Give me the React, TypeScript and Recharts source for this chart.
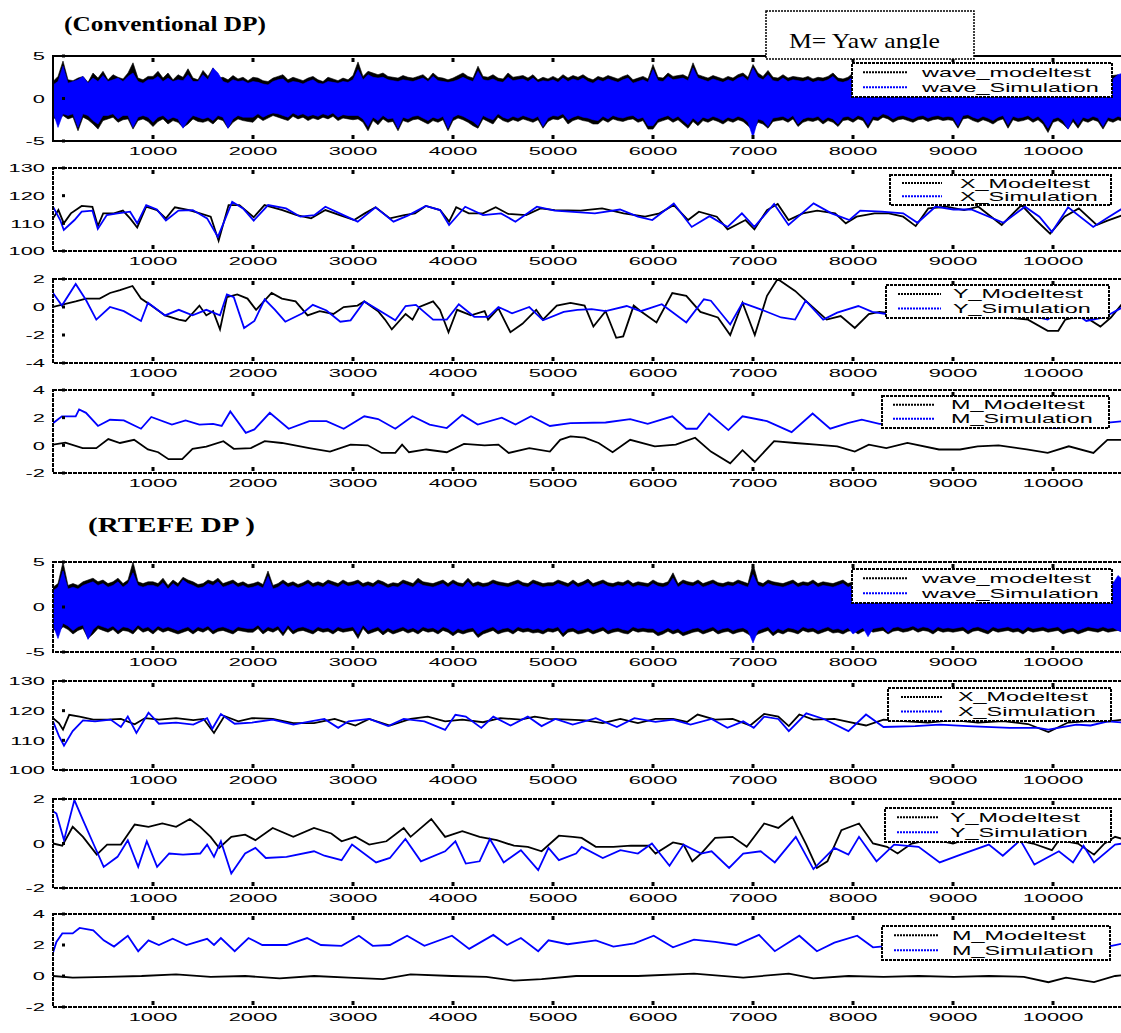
import React from "react";
import { ComposedChart, Line, Area, XAxis, YAxis } from "recharts";

const BLACK = "#000000";
const BLUE = "#0000ff";
const SANS = "'Liberation Sans', Arial, Helvetica, sans-serif";
const SERIF = "'Liberation Serif', 'Times New Roman', serif";

type Pt = [number, number];

// x axis (sample index)
const xTicks = [1000, 2000, 3000, 4000, 5000, 6000, 7000, 8000, 9000, 10000];
const X_MAX = 10770;
const WAVE_STEP = 50;

// ---- Conventional DP ----
// wave band, upper and lower envelope in tenths, one value every 50 samples
const convWaveModelHi = [
  20, 26, 44, 22, 21, 24, 26, 19, 30, 24, 32, 22, 28, 25, 23, 30, 42, 24, 22, 26,
  26, 32, 24, 30, 22, 28, 25, 35, 24, 22, 33, 26, 36, 24, 25, 22, 27, 23, 25, 21,
  25, 24, 21, 20, 24, 26, 28, 22, 25, 23, 21, 24, 26, 22, 20, 25, 23, 21, 24, 22,
  27, 43, 26, 32, 30, 28, 30, 26, 25, 24, 27, 25, 24, 26, 28, 23, 30, 25, 24, 22,
  24, 27, 30, 26, 24, 38, 26, 25, 28, 24, 23, 30, 25, 26, 27, 24, 28, 22, 25, 23,
  26, 23, 28, 24, 27, 25, 28, 24, 22, 26, 24, 27, 25, 23, 26, 28, 22, 24, 26, 23,
  40, 25, 24, 30, 26, 27, 28, 25, 42, 28, 26, 24, 27, 25, 23, 26, 24, 28, 30, 25,
  40, 30, 26, 33, 25, 24, 28, 24, 26, 25, 24, 26, 23, 25, 24, 26, 30, 24, 23, 25,
  30, 25, 22, 24, 22, 23, 24, 25, 22, 24, 23, 26, 22, 24, 21, 23, 25, 22, 24, 23,
  23, 24, 22, 25, 24, 22, 23, 24, 22, 24, 23, 25, 22, 24, 23, 22, 24, 23, 25, 24,
  25, 24, 22, 24, 25, 24, 30, 28, 24, 26, 23, 25, 27, 28, 24,
];
const convWaveModelLo = [
  -22, -26, -20, -24, -22, -38, -22, -25, -30, -36, -26, -24, -22, -28, -25, -24, -36, -26, -24, -27,
  -33, -27, -24, -30, -26, -28, -34, -30, -24, -27, -28, -26, -30, -24, -26, -35, -28, -24, -26, -27,
  -28, -22, -26, -23, -20, -22, -24, -26, -21, -24, -22, -26, -23, -25, -22, -24, -21, -26, -23, -24,
  -25, -24, -28, -38, -26, -31, -24, -28, -27, -38, -26, -28, -25, -24, -27, -30, -26, -28, -25, -38,
  -26, -23, -25, -28, -32, -35, -24, -27, -30, -22, -26, -28, -25, -27, -24, -26, -28, -25, -35, -27,
  -24, -25, -22, -30, -26, -24, -26, -27, -30, -30, -25, -28, -24, -26, -27, -25, -24, -28, -26, -36,
  -36, -28, -26, -24, -28, -25, -30, -35, -27, -32, -26, -28, -25, -27, -30, -26, -28, -25, -27, -32,
  -38, -28, -30, -35, -27, -26, -25, -28, -24, -33, -28, -26, -27, -25, -30, -26, -28, -33, -26, -25,
  -28, -24, -26, -35, -25, -26, -22, -24, -28, -25, -24, -26, -28, -25, -24, -27, -25, -24, -26, -25,
  -26, -35, -24, -23, -26, -28, -25, -27, -30, -26, -24, -35, -25, -27, -26, -24, -28, -25, -30, -40,
  -28, -26, -30, -36, -27, -35, -26, -28, -25, -27, -36, -26, -28, -25, -27,
];
const convWaveSimHi = [
  16, 20, 38, 18, 20, 22, 26, 18, 24, 20, 27, 20, 22, 24, 20, 26, 30, 20, 18, 22,
  22, 26, 20, 24, 20, 22, 21, 28, 20, 20, 28, 22, 36, 30, 20, 18, 22, 20, 21, 18,
  20, 19, 17, 16, 20, 22, 23, 18, 20, 19, 17, 20, 22, 18, 17, 20, 19, 18, 20, 19,
  22, 34, 22, 28, 25, 24, 25, 22, 21, 20, 22, 21, 20, 22, 24, 20, 26, 21, 20, 19,
  20, 22, 25, 22, 20, 32, 22, 21, 23, 20, 19, 25, 21, 22, 23, 20, 24, 19, 21, 20,
  22, 19, 24, 20, 23, 21, 24, 20, 18, 22, 20, 23, 21, 19, 22, 24, 18, 20, 22, 19,
  34, 21, 20, 26, 22, 23, 24, 21, 36, 24, 22, 20, 23, 21, 19, 22, 20, 24, 26, 21,
  36, 25, 22, 28, 21, 20, 24, 20, 22, 21, 20, 22, 19, 21, 20, 22, 26, 20, 19, 21,
  26, 21, 18, 20, 18, 19, 20, 21, 18, 20, 19, 22, 18, 20, 17, 19, 21, 18, 20, 19,
  19, 20, 18, 21, 20, 18, 19, 20, 18, 20, 19, 21, 18, 20, 19, 18, 20, 19, 21, 20,
  21, 20, 18, 20, 21, 20, 26, 24, 20, 22, 19, 21, 23, 28, 30,
];
const convWaveSimLo = [
  -16, -34, -18, -20, -18, -34, -18, -20, -26, -30, -20, -20, -18, -24, -20, -20, -34, -22, -20, -22,
  -28, -22, -20, -25, -22, -24, -35, -26, -20, -22, -24, -22, -26, -20, -22, -35, -24, -20, -22, -22,
  -22, -18, -22, -19, -17, -18, -20, -22, -17, -20, -18, -21, -19, -21, -18, -20, -17, -22, -19, -20,
  -20, -20, -24, -33, -22, -26, -20, -24, -23, -35, -22, -24, -21, -20, -23, -26, -22, -24, -21, -35,
  -22, -19, -21, -24, -27, -32, -20, -23, -25, -18, -22, -24, -21, -23, -20, -22, -24, -21, -33, -23,
  -20, -21, -18, -25, -22, -20, -22, -23, -25, -26, -21, -24, -20, -22, -23, -21, -20, -24, -22, -32,
  -32, -24, -22, -20, -24, -21, -26, -31, -23, -28, -22, -24, -21, -23, -26, -22, -24, -21, -23, -28,
  -46, -24, -26, -33, -23, -22, -21, -24, -20, -30, -24, -22, -23, -21, -26, -22, -24, -30, -22, -21,
  -24, -20, -22, -31, -21, -22, -18, -20, -24, -21, -20, -22, -24, -21, -20, -23, -21, -20, -22, -21,
  -22, -32, -20, -19, -22, -24, -21, -23, -26, -22, -20, -31, -21, -23, -22, -20, -24, -21, -26, -35,
  -24, -22, -26, -36, -23, -31, -22, -24, -21, -23, -33, -22, -24, -21, -23,
];

const convXModel: Pt[] = [
  [0, 111.8], [54, 114.8], [108, 110], [179, 113.6], [287, 116.3], [394, 116], [448, 109], [502, 113.6],
  [609, 113.6], [699, 114.6], [771, 111.8], [842, 108.5], [932, 116], [1039, 114.8], [1129, 111.8],
  [1219, 115.8], [1362, 114.8], [1470, 113.6], [1577, 112.4], [1656, 103.7], [1756, 116.6], [1864, 116.6],
  [2007, 112.2], [2115, 116.6], [2294, 114.8], [2437, 113], [2581, 111.8], [2724, 114.8], [2867, 113],
  [3011, 111.2], [3118, 113.6], [3226, 115.8], [3369, 111.8], [3513, 113], [3620, 113.6], [3728, 116.3],
  [3871, 114.8], [3961, 110.6], [4032, 115.8], [4158, 113.6], [4301, 113.6], [4427, 115.8], [4552, 113.4],
  [4731, 113], [4875, 115.4], [5018, 114.8], [5276, 114.6], [5491, 115.4], [5706, 113.6], [5921, 112.4],
  [6065, 113.6], [6208, 116.6], [6351, 111.2], [6459, 114.2], [6638, 112.4], [6746, 107.8], [6925, 111.2],
  [7014, 107.8], [7140, 114.8], [7247, 117], [7355, 111.2], [7498, 113.6], [7642, 114.6], [7821, 113.6],
  [7928, 110], [8036, 112.4], [8215, 113.6], [8358, 113.6], [8502, 112.4], [8627, 109], [8753, 115.4],
  [8932, 116], [9111, 114.8], [9254, 116], [9487, 109.4], [9685, 116.6], [9828, 111.2], [9971, 106.3],
  [10115, 112.4], [10258, 115.4], [10437, 109.4], [10545, 111], [10700, 113],
];
const convXSim: Pt[] = [
  [0, 116], [72, 111.2], [108, 107.6], [215, 111.2], [287, 114.2], [394, 114.6], [448, 108], [538, 113],
  [645, 113.6], [771, 114.2], [842, 110], [932, 116.6], [1039, 115], [1129, 111], [1254, 114.6],
  [1398, 114.8], [1541, 111.8], [1649, 105.1], [1792, 117.8], [1900, 115.4], [2007, 111], [2151, 116.6],
  [2330, 115.4], [2473, 112.4], [2616, 113], [2724, 116], [2867, 113.6], [3047, 110.6], [3226, 115.8],
  [3405, 110.6], [3548, 112.8], [3728, 116.3], [3871, 114.8], [3961, 109.4], [4122, 116], [4301, 113],
  [4480, 113.6], [4624, 110.6], [4839, 116], [5018, 114.6], [5419, 113.6], [5670, 115], [5849, 112.4],
  [5993, 111.2], [6208, 117.2], [6387, 108.7], [6566, 112.6], [6746, 108.7], [6889, 113.6], [7014, 108.7],
  [7211, 117], [7355, 109.4], [7606, 117.2], [7785, 113.6], [7964, 111.2], [8072, 114.6], [8287, 114.2],
  [8502, 113.6], [8645, 110.2], [8824, 116], [9004, 115], [9183, 115], [9505, 110.2], [9720, 116],
  [9864, 112.4], [9989, 106.9], [10151, 115.8], [10402, 108.7], [10545, 112], [10700, 115.5],
];

const convYModel: Pt[] = [
  [0, 0], [227, 0.4], [330, 0.6], [467, 0.6], [570, 1.0], [670, 1.2], [795, 1.5], [880, 0.6], [983, 0.1],
  [1120, -0.6], [1258, -0.9], [1326, -1.0], [1464, 0.1], [1533, -0.6], [1601, -0.3], [1670, -1.6],
  [1739, 0.7], [1842, 0.9], [1945, 0.6], [2031, -0.2], [2186, 1.0], [2289, 0.6], [2426, 0.4], [2546, -0.6],
  [2667, -0.3], [2804, -0.5], [2907, 0], [3045, 0.1], [3113, 0.4], [3251, -0.3], [3320, -0.9], [3388, -1.6],
  [3526, -0.5], [3595, -0.9], [3663, 0], [3801, 0.4], [3869, -0.2], [3955, -1.8], [4041, -0.2], [4179, -0.6],
  [4316, -0.3], [4351, -0.9], [4454, -0.1], [4574, -1.8], [4694, -1.2], [4832, -0.2], [4900, -0.9],
  [5038, 0.1], [5175, 0.3], [5316, 0.1], [5404, -1.4], [5526, -0.3], [5632, -2.2], [5702, -2.1],
  [5807, 0.1], [5877, -0.3], [6035, -1.1], [6193, 1.0], [6333, 0.8], [6474, -0.35], [6649, -0.75],
  [6772, -2.0], [6895, 0.3], [7018, -2.0], [7140, 0.8], [7246, 2.0], [7421, 1.15], [7526, 0.45],
  [7737, -0.9], [7877, -0.65], [8018, -1.5], [8158, -0.5], [8263, -0.35], [8333, -0.4], [8550, -0.5],
  [8750, -0.3], [9000, -0.6], [9250, -0.4], [9500, -0.7], [9750, -0.9], [9947, -1.7], [10053, -1.7],
  [10123, -0.9], [10300, -0.6], [10474, -1.4], [10579, -0.75], [10700, 0.3],
];
const convYSim: Pt[] = [
  [0, 1.0], [89, 0.1], [227, 1.65], [330, 0.5], [433, -0.9], [570, 0], [708, -0.3], [880, -1.0], [950, 0.3],
  [1120, -0.6], [1258, -0.2], [1395, -0.6], [1533, -0.2], [1670, -0.6], [1739, 0.9], [1808, 0.7],
  [1911, -1.5], [2014, -1.0], [2117, 0.55], [2220, -0.2], [2323, -1.05], [2495, -0.45], [2598, 0.15],
  [2735, -0.25], [2873, -1.05], [2976, -0.95], [3113, 0.4], [3251, -0.2], [3423, -0.95], [3526, 0.07],
  [3629, 0.15], [3801, -0.9], [3938, -0.9], [4058, 0.2], [4213, -0.7], [4351, -0.7], [4454, 0],
  [4591, -0.45], [4763, 0], [4900, -0.95], [5107, -0.35], [5244, -0.2], [5386, -0.15], [5526, -0.3],
  [5737, 0.07], [5877, -0.3], [6088, 0.2], [6333, -1.1], [6509, 0.55], [6579, 0.45], [6772, -1.25],
  [6895, 0.3], [7070, -0.15], [7281, -0.75], [7421, -0.9], [7526, 0.45], [7702, -0.9], [7842, -0.4],
  [8053, 0.07], [8193, -0.35], [8333, -0.5], [8600, -0.4], [8895, -0.75], [9150, -0.5], [9400, -0.6],
  [9650, -0.4], [9947, -0.9], [10123, 0.07], [10333, -1.0], [10509, -0.75], [10700, 0],
];

const convMModel: Pt[] = [
  [0, 0.05], [124, 0.2], [296, -0.2], [433, -0.2], [553, 0.45], [670, 0.17], [811, 0.4], [949, -0.3],
  [1052, -0.5], [1155, -1.0], [1292, -1.0], [1395, -0.25], [1533, -0.1], [1704, 0.3], [1808, -0.25],
  [1979, -0.2], [2117, 0.3], [2289, 0.17], [2563, -0.2], [2770, -0.45], [2976, 0.05], [3148, 0],
  [3285, -0.55], [3423, -0.55], [3491, 0.05], [3560, -0.5], [3732, -0.3], [3938, -0.5], [4110, 0.1],
  [4316, 0], [4454, 0.05], [4557, -0.55], [4763, -0.2], [4969, -0.45], [5072, 0.4], [5175, 0.65],
  [5316, 0.55], [5456, 0.17], [5596, -0.5], [5772, 0.4], [6018, -0.07], [6228, 0.05], [6421, 0.55],
  [6579, -0.45], [6772, -1.3], [6895, -0.35], [7018, -1.2], [7211, 0.3], [7421, 0.17], [7632, 0.05],
  [7842, -0.07], [8018, -0.45], [8158, 0.05], [8333, -0.2], [8544, 0.17], [8860, -0.3], [9070, -0.3],
  [9246, -0.07], [9456, 0], [9737, -0.3], [9947, -0.55], [10158, -0.07], [10404, -0.55], [10544, 0.4],
  [10700, 0.4],
];
const convMSim: Pt[] = [
  [0, 1.6], [89, 2.1], [227, 2.1], [261, 2.6], [330, 2.35], [450, 1.4], [570, 1.85], [708, 1.8], [880, 1.2],
  [983, 2.05], [1189, 1.5], [1326, 1.8], [1464, 1.5], [1601, 1.55], [1687, 1.4], [1773, 2.45], [1928, 0.9],
  [2014, 1.15], [2168, 2.35], [2357, 1.2], [2563, 1.75], [2735, 1.75], [2907, 1.2], [3113, 2.1],
  [3251, 1.9], [3423, 1.2], [3595, 2.1], [3766, 1.5], [3938, 1.25], [4093, 2.2], [4247, 1.5], [4488, 2.0],
  [4625, 1.5], [4780, 2.1], [4969, 1.4], [5175, 1.6], [5526, 1.65], [5772, 1.9], [5947, 1.55], [6193, 2.1],
  [6333, 1.2], [6439, 1.2], [6561, 2.3], [6754, 1.1], [6895, 2.1], [7140, 1.75], [7386, 0.95], [7596, 2.3],
  [7772, 1.2], [7947, 1.6], [8088, 1.85], [8263, 1.55], [8500, 1.6], [8750, 1.4], [9000, 1.7], [9250, 1.5],
  [9500, 1.6], [9750, 1.4], [10035, 1.25], [10300, 1.5], [10500, 1.6], [10700, 1.75],
];

// ---- RTEFE DP ----
const rtefeWaveModelHi = [
  22, 26, 50, 24, 26, 24, 28, 30, 32, 28, 30, 26, 28, 32, 26, 30, 50, 28, 26, 28,
  28, 26, 32, 24, 30, 26, 33, 30, 28, 25, 26, 30, 28, 32, 26, 28, 30, 26, 28, 25,
  26, 28, 25, 40, 24, 26, 30, 26, 28, 25, 27, 30, 26, 28, 26, 30, 28, 26, 30, 27,
  28, 30, 26, 28, 26, 30, 28, 25, 27, 26, 30, 28, 26, 32, 28, 27, 26, 28, 30, 26,
  30, 27, 26, 32, 26, 28, 26, 27, 30, 28, 27, 26, 28, 30, 27, 26, 30, 28, 26, 27,
  27, 30, 28, 26, 30, 26, 28, 31, 26, 28, 30, 27, 26, 28, 27, 30, 26, 28, 27, 26,
  30, 27, 26, 28, 38, 26, 30, 28, 27, 30, 26, 28, 30, 27, 26, 28, 27, 30, 28, 26,
  48, 28, 26, 30, 28, 27, 26, 28, 30, 26, 28, 27, 30, 26, 28, 27, 26, 28, 30, 26,
  28, 27, 26, 28, 26, 25, 28, 26, 25, 27, 26, 28, 25, 27, 26, 28, 26, 25, 27, 26,
  26, 25, 28, 26, 25, 28, 26, 25, 27, 28, 26, 25, 27, 26, 28, 25, 27, 26, 25, 27,
  25, 28, 26, 27, 25, 28, 26, 27, 28, 25, 27, 26, 28, 26, 27,
];
const rtefeWaveModelLo = [
  -24, -28, -22, -25, -30, -26, -24, -35, -30, -24, -26, -28, -25, -30, -26, -27, -30, -24, -28, -26,
  -30, -25, -28, -26, -28, -30, -28, -26, -30, -26, -28, -25, -30, -27, -26, -28, -30, -26, -27, -28,
  -28, -24, -30, -26, -28, -25, -32, -24, -30, -27, -26, -28, -30, -26, -28, -27, -30, -26, -28, -27,
  -26, -35, -24, -30, -28, -26, -31, -27, -30, -28, -26, -29, -27, -30, -26, -28, -27, -30, -26, -28,
  -32, -28, -30, -28, -27, -34, -30, -28, -26, -30, -28, -27, -30, -26, -28, -27, -29, -28, -30, -27,
  -28, -26, -33, -28, -27, -30, -29, -27, -30, -28, -26, -30, -28, -27, -29, -30, -26, -28, -27, -28,
  -28, -32, -30, -27, -30, -28, -32, -30, -28, -27, -30, -28, -26, -30, -28, -27, -30, -28, -27, -30,
  -34, -30, -28, -26, -32, -28, -30, -27, -28, -30, -26, -28, -27, -30, -28, -26, -29, -28, -30, -27,
  -26, -30, -27, -25, -28, -27, -26, -30, -27, -26, -28, -27, -25, -28, -26, -27, -30, -26, -28, -27,
  -28, -27, -26, -30, -27, -26, -28, -30, -26, -28, -27, -26, -28, -27, -30, -26, -28, -27, -26, -28,
  -27, -26, -30, -28, -27, -30, -28, -26, -27, -28, -26, -28, -27, -26, -28,
];
const rtefeWaveSimHi = [
  18, 22, 40, 20, 22, 20, 24, 26, 28, 24, 26, 22, 24, 28, 22, 26, 38, 24, 22, 24,
  24, 22, 27, 20, 26, 22, 30, 26, 24, 21, 22, 26, 24, 28, 22, 24, 26, 22, 24, 21,
  22, 24, 21, 34, 20, 22, 26, 22, 24, 21, 23, 26, 22, 24, 22, 26, 24, 22, 26, 23,
  24, 26, 22, 24, 22, 26, 24, 21, 23, 22, 26, 24, 22, 27, 24, 23, 22, 24, 26, 22,
  26, 23, 22, 28, 22, 24, 22, 23, 26, 24, 23, 22, 24, 26, 23, 22, 26, 24, 22, 23,
  23, 26, 24, 22, 26, 22, 24, 27, 22, 24, 26, 23, 22, 24, 23, 26, 22, 24, 23, 22,
  26, 23, 22, 24, 32, 22, 26, 24, 23, 26, 22, 24, 26, 23, 22, 24, 23, 26, 24, 22,
  36, 24, 22, 26, 24, 23, 22, 24, 26, 22, 24, 23, 26, 22, 24, 23, 22, 24, 26, 22,
  24, 23, 24, 24, 22, 21, 24, 22, 21, 23, 22, 24, 21, 23, 22, 24, 22, 21, 23, 22,
  22, 21, 24, 22, 21, 24, 22, 21, 23, 24, 22, 21, 23, 22, 24, 21, 23, 22, 21, 23,
  21, 24, 22, 23, 21, 24, 22, 23, 24, 21, 23, 22, 26, 35, 30,
];
const rtefeWaveSimLo = [
  -20, -35, -18, -21, -26, -22, -20, -36, -25, -20, -22, -24, -21, -26, -22, -23, -26, -20, -24, -22,
  -26, -21, -24, -22, -24, -26, -24, -22, -26, -22, -24, -21, -26, -23, -22, -24, -26, -22, -23, -24,
  -24, -20, -26, -22, -24, -21, -28, -20, -26, -23, -22, -24, -26, -22, -24, -23, -26, -22, -24, -23,
  -22, -30, -20, -26, -24, -22, -27, -23, -26, -24, -22, -25, -23, -26, -22, -24, -23, -26, -22, -24,
  -28, -24, -26, -24, -23, -30, -26, -24, -22, -26, -24, -23, -26, -22, -24, -23, -25, -24, -26, -23,
  -24, -22, -29, -24, -23, -26, -25, -23, -26, -24, -22, -26, -24, -23, -25, -26, -22, -24, -23, -24,
  -24, -28, -26, -23, -26, -24, -28, -26, -24, -23, -26, -24, -22, -26, -24, -23, -26, -24, -23, -26,
  -40, -26, -24, -22, -28, -24, -26, -23, -24, -26, -22, -24, -23, -26, -24, -22, -25, -24, -26, -23,
  -30, -26, -23, -33, -24, -23, -22, -28, -23, -22, -24, -23, -21, -24, -22, -23, -26, -22, -24, -23,
  -24, -23, -22, -26, -23, -22, -24, -26, -22, -24, -23, -22, -24, -23, -26, -22, -24, -23, -22, -24,
  -23, -22, -26, -24, -23, -26, -24, -22, -23, -24, -22, -24, -23, -26, -28,
];

const rtefeXModel: Pt[] = [
  [0, 117.5], [59, 115.8], [100, 113.6], [162, 118.6], [266, 118], [403, 117], [541, 117], [679, 117.2],
  [817, 115.4], [921, 117.5], [1059, 117], [1231, 117.5], [1403, 116.8], [1507, 117.2], [1610, 112.5],
  [1714, 118.2], [1852, 116.4], [1990, 117.5], [2197, 117.2], [2403, 115.8], [2610, 115.8], [2817, 117.2],
  [3024, 115], [3162, 117.2], [3369, 115], [3576, 117.2], [3748, 118], [3921, 116.4], [4093, 117],
  [4300, 116.1], [4472, 117.5], [4679, 117], [4817, 118], [4955, 117.2], [5162, 117], [5323, 116.7],
  [5498, 115.8], [5674, 117.2], [5849, 115.8], [6025, 117.2], [6200, 117.2], [6340, 116.2], [6446, 118.7],
  [6621, 117], [6796, 117.2], [6972, 115], [7112, 118.9], [7253, 118], [7358, 114.8], [7463, 118.7],
  [7604, 117], [7814, 117.2], [7954, 116.2], [8130, 115], [8305, 117], [8500, 116.5], [8750, 116],
  [9000, 116.8], [9250, 116], [9500, 116.5], [9750, 115.5], [9954, 112.8], [10150, 116], [10350, 116.5],
  [10551, 116.4], [10700, 117],
];
const rtefeXSim: Pt[] = [
  [0, 116.4], [59, 111.5], [110, 108.2], [197, 113.1], [300, 116.7], [421, 116.4], [576, 117], [679, 114.5],
  [748, 118], [834, 112.5], [955, 119.3], [1059, 115.6], [1231, 116], [1403, 115.3], [1541, 117.5],
  [1593, 113.9], [1679, 118.9], [1817, 115.6], [1990, 116], [2197, 117], [2403, 115.3], [2576, 116.4],
  [2714, 117.2], [2852, 114.2], [2955, 116.4], [3162, 117.2], [3352, 114.8], [3507, 117.2], [3714, 116.4],
  [3921, 113.5], [4024, 118.6], [4128, 118], [4283, 114.2], [4403, 118], [4576, 115], [4748, 118],
  [4886, 114.8], [5024, 117.2], [5197, 115.3], [5428, 117.5], [5639, 114.5], [5814, 117.5], [6025, 116.2],
  [6200, 117], [6375, 115.3], [6586, 117.2], [6744, 114.2], [6902, 116.4], [7007, 114.2], [7112, 118],
  [7253, 117.2], [7358, 113.1], [7533, 119.1], [7709, 117.2], [7954, 113.1], [8130, 118.7], [8305, 114.5],
  [8621, 114.8], [8867, 115.3], [9147, 114.8], [9568, 114.2], [9849, 114.2], [9954, 113.6], [10235, 115.3],
  [10375, 115], [10551, 116.4], [10700, 116],
];

const rtefeYModel: Pt[] = [
  [0, 0], [93, -0.1], [197, 0.75], [300, 0.3], [438, -0.5], [541, -0.05], [679, -0.05], [817, 0.85],
  [955, 0.75], [1093, 0.9], [1231, 0.75], [1369, 1.1], [1472, 0.75], [1576, 0.3], [1662, -0.2], [1783, 0.3],
  [1921, 0.4], [2024, 0.15], [2197, 0.7], [2403, 0.3], [2610, 0.7], [2783, 0.45], [2886, 0.1], [3024, 0.3],
  [3162, -0.05], [3334, 0.1], [3507, 0.7], [3576, 0.3], [3783, 1.1], [3921, 0.3], [4093, 0.55], [4266, 0.3],
  [4438, 0.15], [4610, -0.1], [4748, -0.15], [4886, -0.35], [5059, 0.35], [5197, 0.3], [5287, 0.25],
  [5428, -0.15], [5604, -0.15], [5779, -0.1], [5954, -0.1], [6025, -0.45], [6200, 0.05], [6305, -0.05],
  [6393, -0.8], [6481, -0.45], [6621, 0.25], [6796, 0.3], [6937, -0.15], [7112, 0.9], [7253, 0.7],
  [7393, 1.2], [7533, -0.05], [7639, -1.1], [7744, -0.8], [7884, 0.6], [8060, 0.9], [8200, 0],
  [8340, -0.15], [8446, -0.45], [8586, 0], [8800, 0.2], [9000, 0], [9200, 0.3], [9358, 0.1], [9600, 0.2],
  [9800, 0], [9989, -0.3], [10059, 0.15], [10250, 0], [10410, -0.5], [10516, 0], [10621, 0.3], [10700, 0.2],
];
const rtefeYSim: Pt[] = [
  [0, 1.45], [34, 1.35], [110, 0.15], [214, 1.95], [300, 1.05], [403, 0], [507, -1.05], [645, -0.6],
  [748, 0.15], [852, -1.05], [938, 0.1], [1041, -1.05], [1162, -0.45], [1300, -0.5], [1472, -0.45],
  [1541, -0.05], [1610, -0.6], [1679, 0.1], [1783, -1.35], [1921, -0.45], [2024, -0.2], [2128, -0.65],
  [2335, -0.6], [2610, -0.35], [2714, -0.55], [2886, -0.75], [2990, -0.05], [3231, -0.85], [3369, -0.65],
  [3524, 0.2], [3679, -0.8], [3921, -0.35], [4024, 0.1], [4128, -0.9], [4266, -0.8], [4369, 0.2],
  [4507, -0.85], [4679, -0.3], [4852, -1.2], [4955, -0.2], [5059, -0.75], [5231, -0.45], [5287, -0.15],
  [5498, -0.65], [5674, -0.3], [5849, -0.45], [5989, 0], [6165, -1.0], [6305, -0.05], [6481, -0.45],
  [6586, -0.35], [6761, -1.1], [6902, -0.45], [7077, -0.35], [7218, -0.85], [7428, 0.3], [7604, -1.15],
  [7814, -0.2], [7954, -0.5], [8060, 0.3], [8235, -0.8], [8411, -0.05], [8656, -0.15], [8867, -0.85],
  [9077, -0.5], [9358, -0.05], [9498, -0.55], [9673, 0.15], [9814, -0.95], [10059, -0.35], [10200, -0.85],
  [10305, -0.1], [10410, -0.85], [10621, -0.05], [10700, 0],
];

const rtefeMModel: Pt[] = [
  [0, 0], [197, -0.1], [541, -0.05], [886, 0], [1231, 0.1], [1576, -0.05], [1921, 0], [2266, -0.15],
  [2610, 0], [2955, -0.1], [3300, -0.2], [3576, 0.1], [3990, 0], [4334, -0.05], [4610, -0.3], [4886, -0.2],
  [5231, 0], [5498, 0], [5849, 0], [6410, 0.15], [6902, -0.1], [7358, 0.15], [7604, -0.15], [7954, 0],
  [8305, -0.05], [8656, 0], [9007, -0.05], [9358, 0], [9708, -0.05], [9954, -0.4], [10130, -0.1],
  [10410, -0.4], [10621, 0], [10700, 0.05],
];
const rtefeMSim: Pt[] = [
  [0, 1.5], [34, 2.2], [93, 2.75], [197, 2.75], [266, 3.1], [403, 2.95], [507, 2.3], [610, 1.9], [748, 2.6],
  [852, 1.6], [955, 2.3], [1059, 2.0], [1197, 2.4], [1334, 2.0], [1541, 2.4], [1610, 2.0], [1679, 2.45],
  [1817, 1.6], [1955, 2.45], [2093, 2.0], [2335, 2.0], [2541, 2.45], [2679, 2.0], [2886, 1.95], [3059, 2.6],
  [3197, 1.95], [3369, 2.0], [3541, 2.6], [3714, 1.95], [3990, 2.6], [4162, 1.75], [4403, 2.65], [4541, 2.0],
  [4679, 2.45], [4852, 1.6], [4955, 2.3], [5147, 2.05], [5428, 2.3], [5604, 1.9], [5814, 2.1], [6007, 2.6],
  [6200, 1.85], [6410, 2.35], [6621, 2.2], [6832, 2.0], [7060, 2.65], [7218, 1.6], [7463, 2.6], [7639, 1.6],
  [7814, 2.15], [8042, 2.6], [8200, 1.85], [8450, 2.0], [8700, 1.8], [8950, 2.1], [9200, 1.9], [9450, 2.0],
  [9700, 1.8], [9950, 2.1], [10200, 1.9], [10450, 2.0], [10586, 1.95], [10700, 2.1],
];

const waveTicks = [-5, 0, 5];
const xPosTicks = [100, 110, 120, 130];
const yConvTicks = [-4, -2, 0, 2];
const yRtefeTicks = [-2, 0, 2];
const mTicks = [-2, 0, 2, 4];

const waveLabels = ["wave_modeltest", "wave_Simulation"];
const xLabels = ["X_Modeltest", "X_Simulation"];
const yLabels = ["Y_Modeltest", "Y_Simulation"];
const mLabels = ["M_Modeltest", "M_Simulation"];

function waveRows(mHi: number[], mLo: number[], sHi: number[], sLo: number[]) {
  return mHi.map((h, i) => ({
    x: i * WAVE_STEP,
    model: [mLo[i] / 10, h / 10],
    sim: [sLo[i] / 10, sHi[i] / 10],
  }));
}
function rows(pts: Pt[]) {
  return pts.map(([x, v]) => ({ x, v }));
}

const CHART_W = 1130;
const LEFT = 53;
const TOP_PAD = 10;

// plot boxes (page pixels) of the eight panels
const PANEL_BOX = [
  { top: 56, bottom: 141, solid: true },
  { top: 168, bottom: 251 },
  { top: 279, bottom: 363 },
  { top: 390, bottom: 473 },
  { top: 562, bottom: 652 },
  { top: 681, bottom: 770 },
  { top: 799, bottom: 888 },
  { top: 914, bottom: 1007 },
];

function BottomTick(p: any) {
  return (
    <g>
      <rect x={p.x - 1.5} y={p.y - 6} width={3} height={4} fill={BLACK} />
      <text
        transform={`translate(${p.x},${p.y + 14}) scale(1.9,1)`}
        textAnchor="middle"
        fontFamily={SANS}
        fontSize={11.5}
        fill={BLACK}
      >
        {p.payload.value}
      </text>
    </g>
  );
}

function TopTick(p: any) {
  return <rect x={p.x - 1.5} y={p.y + 2} width={3} height={4} fill={BLACK} />;
}

function LeftTick(p: any) {
  return (
    <g>
      <rect x={p.x + 9} y={p.y - 1.5} width={3} height={3} fill={BLACK} />
      <text
        transform={`translate(${p.x - 8},${p.y + 4.2}) scale(1.9,1)`}
        textAnchor="end"
        fontFamily={SANS}
        fontSize={11.5}
        fill={BLACK}
      >
        {p.payload.value}
      </text>
    </g>
  );
}

type Series = { data?: any[]; key: string; color: string; band?: boolean };

function Panel(props: {
  box: { top: number; bottom: number };
  domain: [number, number];
  yTicks: number[];
  data?: any[];
  series: Series[];
}) {
  const { box, domain, yTicks, data, series } = props;
  const h = box.bottom - box.top;
  return (
    <div style={{ position: "absolute", left: 0, top: box.top - TOP_PAD - 1 }}>
      <ComposedChart
        width={CHART_W}
        height={TOP_PAD + 1 + h + 1 + 24}
        data={data}
        margin={{ top: TOP_PAD, right: 0, bottom: 24, left: 0 }}
      >
        <XAxis
          xAxisId="b"
          dataKey="x"
          type="number"
          domain={[0, X_MAX]}
          ticks={xTicks}
          interval={0}
          allowDataOverflow
          height={1}
          tickSize={0}
          tickMargin={0}
          axisLine={false}
          tickLine={false}
          tick={(p: any) => <BottomTick {...p} />}
        />
        <XAxis
          xAxisId="t"
          orientation="top"
          dataKey="x"
          type="number"
          domain={[0, X_MAX]}
          ticks={xTicks}
          interval={0}
          allowDataOverflow
          height={1}
          tickSize={0}
          tickMargin={0}
          axisLine={false}
          tickLine={false}
          tick={(p: any) => <TopTick {...p} />}
        />
        <YAxis
          yAxisId="l"
          type="number"
          domain={domain}
          ticks={yTicks}
          interval={0}
          allowDataOverflow
          width={LEFT}
          tickSize={0}
          tickMargin={0}
          axisLine={false}
          tickLine={false}
          tick={(p: any) => <LeftTick {...p} />}
        />
        {series.map((s) =>
          s.band ? (
            <Area
              key={s.key}
              xAxisId="b"
              yAxisId="l"
              dataKey={s.key}
              type="linear"
              stroke={s.color}
              strokeWidth={0.6}
              fill={s.color}
              fillOpacity={1}
              dot={false}
              activeDot={false}
              isAnimationActive={false}
            />
          ) : (
            <Line
              key={s.key + s.color}
              xAxisId="b"
              yAxisId="l"
              data={s.data}
              dataKey={s.key}
              type="linear"
              stroke={s.color}
              strokeWidth={1.8}
              dot={false}
              activeDot={false}
              isAnimationActive={false}
            />
          )
        )}
      </ComposedChart>
    </div>
  );
}

function Frame(props: { top: number; bottom: number; solid?: boolean }) {
  return (
    <rect
      x={LEFT}
      y={props.top}
      width={1121 - LEFT + 20}
      height={props.bottom - props.top}
      fill="none"
      stroke={BLACK}
      strokeWidth={2}
      strokeDasharray={props.solid ? undefined : "4 1"}
    />
  );
}

function LegendBox(props: {
  x1: number;
  y1: number;
  x2: number;
  y2: number;
  lx1: number;
  lx2: number;
  tx: number;
  labels: string[];
}) {
  const { x1, y1, x2, y2, lx1, lx2, tx, labels } = props;
  const h = y2 - y1;
  const r = [y1 + h * 0.27, y1 + h * 0.71];
  const colors = [BLACK, BLUE];
  return (
    <g>
      <rect
        x={x1}
        y={y1}
        width={x2 - x1}
        height={h}
        fill="#ffffff"
        stroke={BLACK}
        strokeWidth={2}
        strokeDasharray="3 1"
      />
      {labels.map((label, i) => (
        <g key={label}>
          <line
            x1={lx1}
            x2={lx2}
            y1={r[i]}
            y2={r[i]}
            stroke={colors[i]}
            strokeWidth={2}
            strokeDasharray="2 1"
          />
          <text
            transform={`translate(${tx},${r[i] + 4.5}) scale(1.95,1)`}
            fontFamily={SANS}
            fontSize={12}
            fill={BLACK}
          >
            {label}
          </text>
        </g>
      ))}
    </g>
  );
}

export default function App() {
  const convWave = waveRows(convWaveModelHi, convWaveModelLo, convWaveSimHi, convWaveSimLo);
  const rtefeWave = waveRows(rtefeWaveModelHi, rtefeWaveModelLo, rtefeWaveSimHi, rtefeWaveSimLo);
  const bands: Series[] = [
    { key: "model", color: BLACK, band: true },
    { key: "sim", color: BLUE, band: true },
  ];
  const pair = (model: Pt[], sim: Pt[]): Series[] => [
    { data: rows(model), key: "v", color: BLACK },
    { data: rows(sim), key: "v", color: BLUE },
  ];
  return (
    <div
      style={{
        position: "absolute",
        left: 0,
        top: 0,
        width: 1121,
        height: 1033,
        overflow: "hidden",
        background: "#ffffff",
      }}
    >
      <Panel box={PANEL_BOX[0]} domain={[-5, 5]} yTicks={waveTicks} data={convWave} series={bands} />
      <Panel box={PANEL_BOX[1]} domain={[100, 130]} yTicks={xPosTicks} series={pair(convXModel, convXSim)} />
      <Panel box={PANEL_BOX[2]} domain={[-4, 2]} yTicks={yConvTicks} series={pair(convYModel, convYSim)} />
      <Panel box={PANEL_BOX[3]} domain={[-2, 4]} yTicks={mTicks} series={pair(convMModel, convMSim)} />
      <Panel box={PANEL_BOX[4]} domain={[-5, 5]} yTicks={waveTicks} data={rtefeWave} series={bands} />
      <Panel box={PANEL_BOX[5]} domain={[100, 130]} yTicks={xPosTicks} series={pair(rtefeXModel, rtefeXSim)} />
      <Panel box={PANEL_BOX[6]} domain={[-2, 2]} yTicks={yRtefeTicks} series={pair(rtefeYModel, rtefeYSim)} />
      <Panel box={PANEL_BOX[7]} domain={[-2, 4]} yTicks={mTicks} series={pair(rtefeMModel, rtefeMSim)} />

      <svg
        width={1121}
        height={1033}
        style={{ position: "absolute", left: 0, top: 0, pointerEvents: "none" }}
      >
        <defs>
          <clipPath id="yawClip">
            <rect x={766} y={11} width={208} height={38} />
          </clipPath>
        </defs>
        {PANEL_BOX.map((b, i) => (
          <Frame key={i} top={b.top} bottom={b.bottom} solid={b.solid} />
        ))}
        <text
          x={64}
          y={31}
          fontFamily={SERIF}
          fontWeight="bold"
          fontSize={21}
          textLength={202}
          lengthAdjust="spacingAndGlyphs"
          fill={BLACK}
        >
          (Conventional DP)
        </text>
        <text
          x={88}
          y={532}
          fontFamily={SERIF}
          fontWeight="bold"
          fontSize={21}
          textLength={167}
          lengthAdjust="spacingAndGlyphs"
          fill={BLACK}
        >
          (RTEFE DP )
        </text>
        <rect
          x={766}
          y={11}
          width={208}
          height={48}
          fill="#ffffff"
          stroke={BLACK}
          strokeWidth={1.5}
          strokeDasharray="2 1"
        />
        <text
          x={789}
          y={48}
          fontFamily={SERIF}
          fontSize={22}
          textLength={151}
          lengthAdjust="spacingAndGlyphs"
          fill={BLACK}
          clipPath="url(#yawClip)"
        >
          M= Yaw angle
        </text>

        <LegendBox x1={852} y1={63} x2={1112} y2={97} lx1={863} lx2={907} tx={922} labels={waveLabels} />
        <LegendBox x1={890} y1={175} x2={1111} y2={205} lx1={902} lx2={942} tx={960} labels={xLabels} />
        <LegendBox x1={886} y1={285} x2={1109} y2={318} lx1={898} lx2={941} tx={953} labels={yLabels} />
        <LegendBox x1={882} y1={396} x2={1109} y2={428} lx1={893} lx2={935} tx={951} labels={mLabels} />
        <LegendBox x1={852} y1={569} x2={1112} y2={603} lx1={863} lx2={907} tx={922} labels={waveLabels} />
        <LegendBox x1={888} y1={688} x2={1111} y2={721} lx1={901} lx2={943} tx={958} labels={xLabels} />
        <LegendBox x1={885} y1={808} x2={1111} y2={842} lx1={897} lx2={938} tx={950} labels={yLabels} />
        <LegendBox x1={882} y1={926} x2={1110} y2={960} lx1={894} lx2={938} tx={952} labels={mLabels} />
      </svg>
    </div>
  );
}
